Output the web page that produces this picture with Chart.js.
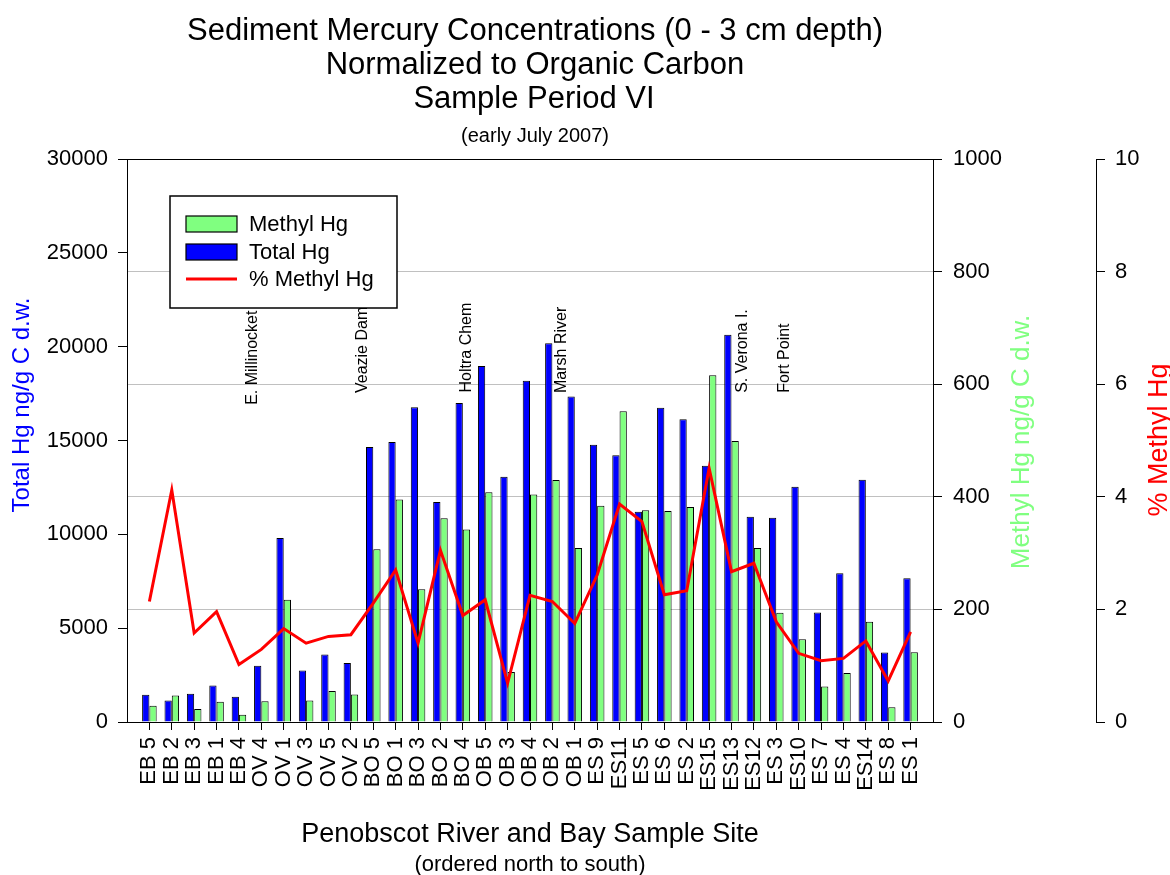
<!DOCTYPE html>
<html>
<head>
<meta charset="utf-8">
<title>Sediment Mercury Concentrations</title>
<script src="https://cdn.jsdelivr.net/npm/chart.js@4.4.1/dist/chart.umd.min.js"></script>
<style>
  html, body { margin: 0; padding: 0; background: #fff; }
  #wrap { width: 1170px; height: 875px; }
</style>
</head>
<body>
<div id="wrap"><canvas id="hgChart" width="1170" height="875"></canvas></div>
<script>
// sample sites, ordered north to south
const sites = ['EB 5', 'EB 2', 'EB 3', 'EB 1', 'EB 4', 'OV 4', 'OV 1', 'OV 3', 'OV 5', 'OV 2',
  'BO 5', 'BO 1', 'BO 3', 'BO 2', 'BO 4', 'OB 5', 'OB 3', 'OB 4', 'OB 2', 'OB 1',
  'ES 9', 'ES11', 'ES 5', 'ES 6', 'ES 2', 'ES15', 'ES13', 'ES12', 'ES 3', 'ES10',
  'ES 7', 'ES 4', 'ES14', 'ES 8', 'ES 1'];

// Total Hg, ng/g C d.w.
const totalHg = [1450, 1150, 1500, 1950, 1350, 3000, 9800, 2750, 3600, 3150,
  14650, 14920, 16770, 11720, 17000, 18970, 13070, 18190, 20180, 17340,
  14780, 14210, 11210, 16750, 16130, 13660, 20640, 10940, 10890, 12540,
  5830, 7920, 12910, 3710, 7660];

// Methyl Hg, ng/g C d.w.
const methylHg = [29, 47, 23, 36, 13, 37, 217, 38, 55, 49,
  307, 395, 236, 362, 342, 408, 89, 404, 430, 309,
  384, 552, 376, 375, 382, 616, 499, 309, 194, 147,
  63, 87, 178, 26, 124];

// % Methyl Hg
const pctMethyl = [2.14, 4.12, 1.58, 1.96, 1.02, 1.29, 1.66, 1.40, 1.52, 1.55,
  2.11, 2.70, 1.40, 3.05, 1.89, 2.17, 0.69, 2.25, 2.14, 1.75,
  2.61, 3.87, 3.56, 2.26, 2.33, 4.51, 2.67, 2.82, 1.78, 1.22,
  1.09, 1.13, 1.44, 0.73, 1.60];

const totalTicks = [0, 5000, 10000, 15000, 20000, 25000, 30000];
const methylTicks = [0, 200, 400, 600, 800, 1000];
const pctTicks = [0, 2, 4, 6, 8, 10];

// landmarks along the river (position in category units, label bottom in Total Hg units)
const landmarks = [
  { text: 'E. Millinocket', at: 5.63, y: 16900 },
  { text: 'Veazie Dam', at: 10.52, y: 17530 },
  { text: 'Holtra Chem', at: 15.19, y: 17560 },
  { text: 'Marsh River', at: 19.41, y: 17530 },
  { text: 'S. Verona I.', at: 27.51, y: 17540 },
  { text: 'Fort Point', at: 29.37, y: 17540 }
];

const FONT = '"Liberation Sans", Arial, sans-serif';
const BLUE = '#0000ff';
const GREEN = '#80ff80';
const RED = '#ff0000';
const CLEAR = 'rgba(0,0,0,0)';

// blank slot on each side of the site list
const labels = [''].concat(sites, ['']);
const pad = arr => [null].concat(arr, [null]);

function fixedTicks(list) {
  return function(scale) {
    scale.ticks = list.map(v => ({ value: v }));
  };
}

function vtext(ctx, str, x, y, size, color, align) {
  ctx.save();
  ctx.translate(x, y);
  ctx.rotate(-Math.PI / 2);
  ctx.font = size + 'px ' + FONT;
  ctx.fillStyle = color;
  ctx.textAlign = align;
  ctx.textBaseline = 'middle';
  ctx.fillText(str, 0, 0);
  ctx.restore();
}

function htext(ctx, str, x, y, size, color) {
  ctx.font = size + 'px ' + FONT;
  ctx.fillStyle = color;
  ctx.textAlign = 'center';
  ctx.textBaseline = 'alphabetic';
  ctx.fillText(str, x, y);
}

const decorations = {
  id: 'decorations',
  afterDatasetsDraw(chart) {
    const ctx = chart.ctx;
    const area = chart.chartArea;
    const xs = chart.scales.x;
    const ys = chart.scales.y;

    // top edge of the plot frame
    ctx.save();
    ctx.strokeStyle = '#000';
    ctx.lineWidth = 1;
    ctx.beginPath();
    ctx.moveTo(area.left, area.top + 0.5);
    ctx.lineTo(area.right, area.top + 0.5);
    ctx.stroke();
    ctx.restore();

    // landmark labels
    landmarks.forEach(m => {
      vtext(ctx, m.text, xs.getPixelForValue(m.at), ys.getPixelForValue(m.y), 16, '#000', 'left');
    });

    // legend box
    ctx.save();
    ctx.fillStyle = '#fff';
    ctx.strokeStyle = '#000';
    ctx.lineWidth = 1.5;
    ctx.fillRect(170, 196, 227, 112);
    ctx.strokeRect(170, 196, 227, 112);
    ctx.lineWidth = 1.2;
    ctx.fillStyle = GREEN;
    ctx.fillRect(186, 216, 51, 16);
    ctx.strokeRect(186, 216, 51, 16);
    ctx.fillStyle = BLUE;
    ctx.fillRect(186, 244, 51, 16);
    ctx.strokeRect(186, 244, 51, 16);
    ctx.strokeStyle = RED;
    ctx.lineWidth = 3;
    ctx.beginPath();
    ctx.moveTo(186, 279);
    ctx.lineTo(237, 279);
    ctx.stroke();
    ctx.font = '22px ' + FONT;
    ctx.fillStyle = '#000';
    ctx.textAlign = 'left';
    ctx.textBaseline = 'middle';
    ctx.fillText('Methyl Hg', 249, 225);
    ctx.fillText('Total Hg', 249, 253);
    ctx.fillText('% Methyl Hg', 249, 280);
    ctx.restore();
  },
  afterDraw(chart) {
    const ctx = chart.ctx;
    ctx.save();
    htext(ctx, 'Sediment Mercury Concentrations (0 - 3 cm depth)', 535, 40, 31, '#000');
    htext(ctx, 'Normalized to Organic Carbon', 535, 74, 31, '#000');
    htext(ctx, 'Sample Period VI', 534, 108, 31, '#000');
    htext(ctx, '(early July 2007)', 535, 142, 20, '#000');
    htext(ctx, 'Penobscot River and Bay Sample Site', 530, 842, 27, '#000');
    htext(ctx, '(ordered north to south)', 530, 871, 22, '#000');
    vtext(ctx, 'Total Hg ng/g C d.w.', 22, 405, 24, BLUE, 'center');
    vtext(ctx, 'Methyl Hg ng/g C d.w.', 1022, 442, 26, GREEN, 'center');
    vtext(ctx, '% Methyl Hg', 1160, 440, 27, RED, 'center');
    ctx.restore();
  }
};

const tickFont = { family: FONT, size: 22 };

new Chart(document.getElementById('hgChart'), {
  type: 'bar',
  data: {
    labels: labels,
    datasets: [{
      type: 'line',
      label: '% Methyl Hg',
      data: pad(pctMethyl),
      yAxisID: 'y2',
      borderColor: RED,
      borderWidth: 3,
      pointRadius: 0,
      tension: 0,
      fill: false,
      order: 0
    }, {
      label: 'Total Hg',
      data: pad(totalHg),
      yAxisID: 'y',
      backgroundColor: BLUE,
      borderColor: '#000',
      borderWidth: 1,
      categoryPercentage: 0.65,
      barPercentage: 1.0,
      order: 1
    }, {
      label: 'Methyl Hg',
      data: pad(methylHg),
      yAxisID: 'y1',
      backgroundColor: GREEN,
      borderColor: '#000',
      borderWidth: 1,
      categoryPercentage: 0.65,
      barPercentage: 1.0,
      order: 1
    }]
  },
  options: {
    responsive: false,
    animation: false,
    devicePixelRatio: 1,
    layout: { padding: { top: 159, left: 0, right: 0, bottom: 0 } },
    plugins: {
      legend: { display: false },
      tooltip: { enabled: false },
      title: { display: false }
    },
    scales: {
      x: {
        offset: false,
        grid: {
          offset: false,
          drawOnChartArea: false,
          tickLength: 8,
          tickColor: ctx => (ctx.index === 0 || ctx.index === labels.length - 1) ? CLEAR : '#000'
        },
        border: { color: '#000', width: 1 },
        ticks: {
          autoSkip: false,
          minRotation: 90,
          maxRotation: 90,
          padding: 7,
          color: '#000',
          font: tickFont
        },
        afterFit: s => { s.height = 153; }
      },
      y: {
        position: 'left',
        min: 0,
        max: 30000,
        afterBuildTicks: fixedTicks(totalTicks),
        grid: { drawOnChartArea: false, tickLength: 9, tickColor: '#000' },
        border: { color: '#000', width: 1 },
        ticks: { padding: 10, color: '#000', font: tickFont, callback: v => String(v) },
        afterFit: s => { s.width = 127; }
      },
      y1: {
        position: 'right',
        weight: 0,
        min: 0,
        max: 1000,
        afterBuildTicks: fixedTicks(methylTicks),
        grid: {
          drawOnChartArea: true,
          tickLength: 9,
          tickColor: '#000',
          color: ctx => (ctx.tick && ctx.tick.value > 0 && ctx.tick.value < 1000) ? '#c0c0c0' : CLEAR
        },
        border: { color: '#000', width: 1 },
        ticks: { padding: 11, color: '#000', font: tickFont, callback: v => String(v) },
        afterFit: s => { s.width = 163; }
      },
      y2: {
        position: 'right',
        weight: 1,
        min: 0,
        max: 10,
        afterBuildTicks: fixedTicks(pctTicks),
        grid: { drawOnChartArea: false, tickLength: 9, tickColor: '#000' },
        border: { color: '#000', width: 1 },
        ticks: { padding: 10, color: '#000', font: tickFont, callback: v => String(v) },
        afterFit: s => { s.width = 74; }
      }
    }
  },
  plugins: [decorations]
});
</script>
</body>
</html>
